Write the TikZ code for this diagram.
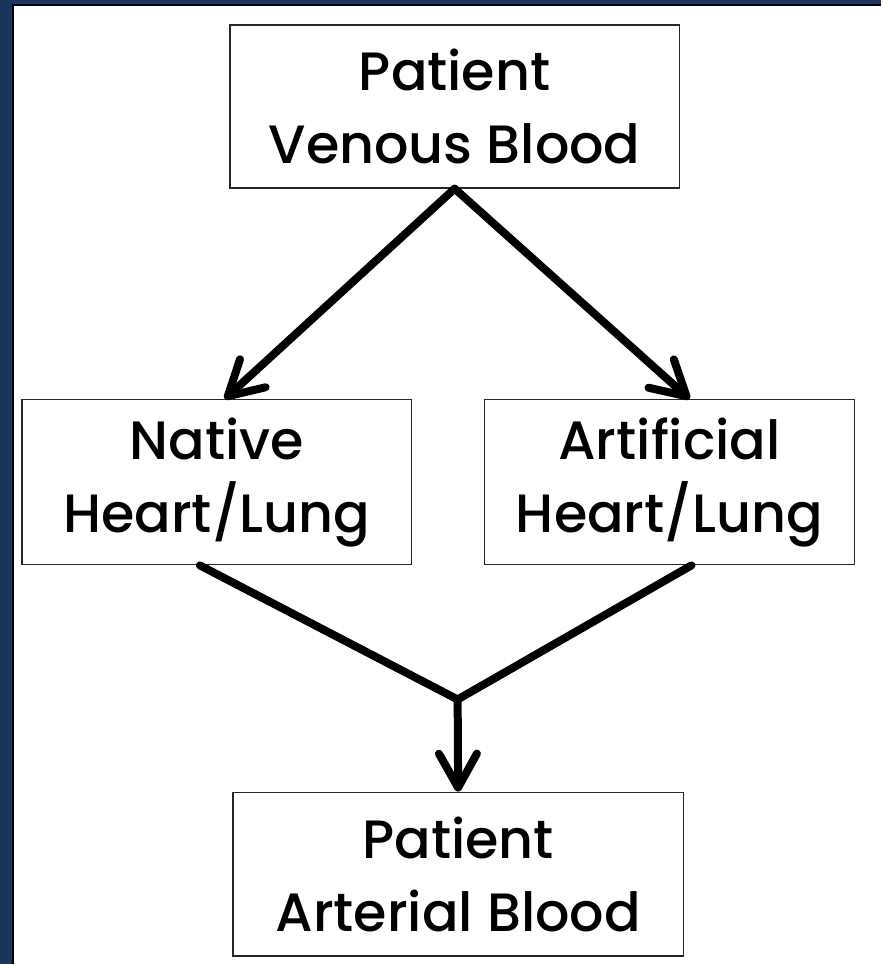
\documentclass[tikz,border=0pt]{standalone}
\usepackage{fontspec}
\setmainfont{Poppins}[UprightFont=* Medium]
\usetikzlibrary{arrows.meta}
\definecolor{frameblue}{HTML}{1B365D}
\tikzstyle{block} = [draw=black!85, line width=1.6pt, fill=white, text centered, align=center, inner sep=0pt, font=\fontsize{54}{73}\selectfont]
\tikzstyle{flow} = [line width=8pt, line cap=round, line join=miter]
\tikzstyle{tip} = [-{Straight Barb[length=34pt, width=38pt, line width=8pt, round]}]

\begin{document}
\begin{tikzpicture}[x=1pt, y=-1pt]
    \fill[frameblue] (0,0) rectangle (882,965);
    \fill[white] (13,5) rectangle (882,965);
    \draw[black, line width=1.5pt] (13,965) -- (13,5) -- (882,5);

    \node[block, minimum width=450pt, minimum height=163pt] (venous) at (455,106.5) {Patient\\Venous Blood};
    \node[block, minimum width=390pt, minimum height=165pt] (native) at (217,482.5) {Native\\Heart/Lung};
    \node[block, minimum width=370pt, minimum height=165pt] (artificial) at (670,482.5) {Artificial\\Heart/Lung};
    \node[block, minimum width=451pt, minimum height=164pt] (arterial) at (458.5,875) {Patient\\Arterial Blood};

    \coordinate (join) at (458,700);

    \draw[flow, tip] (venous.south) -- ([xshift=8pt]native.north);
    \draw[flow, tip] (venous.south) -- ([xshift=20pt]artificial.north);
    \draw[flow] ([xshift=-17pt]native.south) -- (join) -- ([xshift=22pt]artificial.south);
    \draw[flow, tip] (join) -- (arterial.north);
\end{tikzpicture}
\end{document}
